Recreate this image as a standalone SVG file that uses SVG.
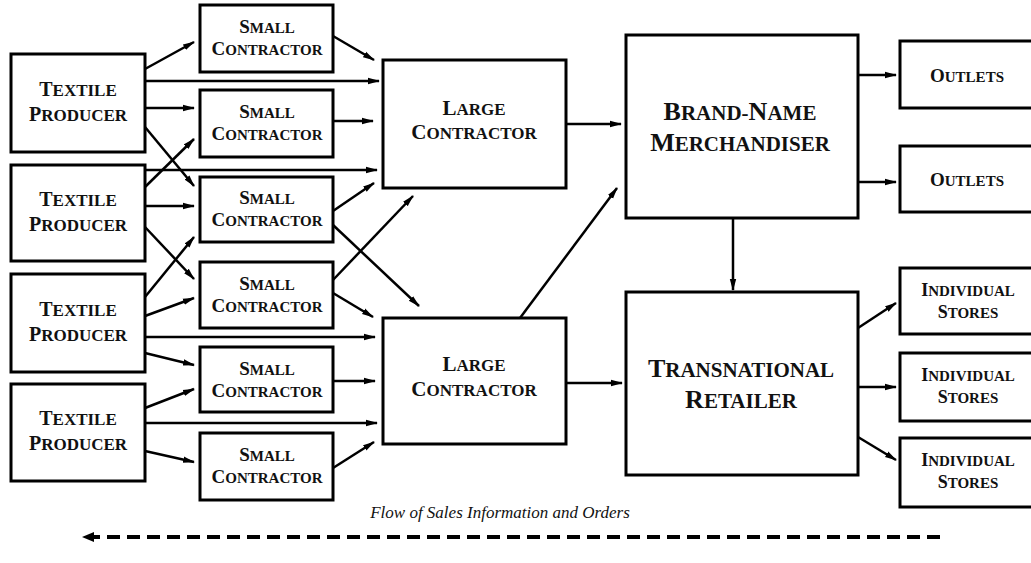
<svg xmlns="http://www.w3.org/2000/svg" width="1031" height="563" viewBox="0 0 1031 563">
<defs>
<style>
.box{fill:#fff;stroke:#000;stroke-width:3}
.lbl{font-family:'Liberation Serif','DejaVu Serif',serif;font-weight:bold;text-anchor:middle;fill:#111}
.c{fill:none;stroke:#000;stroke-width:2.5}
.cap{font-family:'Liberation Serif','DejaVu Serif',serif;font-style:italic;font-size:17px;text-anchor:middle;fill:#111}
</style>
<marker id="ah" viewBox="0 0 12 8" refX="11" refY="4" markerWidth="12" markerHeight="8" markerUnits="userSpaceOnUse" orient="auto">
<path d="M0,0.8 L12,4 L0,7.2 z" fill="#000"/>
</marker>
</defs>
<rect width="1031" height="563" fill="#fff"/>

<g id="connectors">
<g class="c" marker-end="url(#ah)">
<line x1="145" y1="69" x2="194" y2="42"/>
<line x1="145" y1="81" x2="379" y2="81"/>
<line x1="145" y1="108" x2="194" y2="108"/>
<line x1="145" y1="127" x2="194" y2="186"/>
<line x1="333" y1="36" x2="374" y2="60"/>
<line x1="333" y1="121" x2="373" y2="121"/>
<line x1="145" y1="170" x2="377" y2="170"/>
<line x1="145" y1="187" x2="194" y2="139"/>
<line x1="333" y1="211" x2="374" y2="183"/>
<line x1="145" y1="206" x2="194" y2="206"/>
<line x1="145" y1="227" x2="194" y2="279"/>
<line x1="145" y1="297" x2="194" y2="237"/>
<line x1="145" y1="316" x2="194" y2="298"/>
<line x1="145" y1="337" x2="375" y2="337"/>
<line x1="145" y1="353" x2="194" y2="365"/>
<line x1="333" y1="225" x2="419" y2="306"/>
<line x1="333" y1="280" x2="413" y2="196"/>
<line x1="333" y1="293" x2="373" y2="317"/>
<line x1="333" y1="381" x2="375" y2="381"/>
<line x1="145" y1="408" x2="194" y2="389"/>
<line x1="145" y1="423" x2="377" y2="423"/>
<line x1="145" y1="451" x2="194" y2="462"/>
<line x1="333" y1="468" x2="374" y2="442"/>
<line x1="566" y1="124" x2="621" y2="124"/>
<line x1="566" y1="383" x2="622" y2="383"/>
<line x1="520" y1="318" x2="617" y2="188"/>
<line x1="858" y1="75" x2="896" y2="75"/>
<line x1="858" y1="182" x2="896" y2="182"/>
<line x1="733" y1="218" x2="733" y2="290"/>
<line x1="858" y1="328" x2="896" y2="303"/>
<line x1="858" y1="387" x2="896" y2="387"/>
<line x1="858" y1="437" x2="896" y2="460"/>
</g>
<line x1="940" y1="537" x2="92" y2="537" stroke="#000" stroke-width="4" stroke-dasharray="13,7"/>
<path d="M82,537 L94,532 L94,542 z" fill="#000"/>
</g>

<g id="tp1"><rect class="box" x="11" y="54" width="134" height="98"/><text class="lbl" x="78" y="96"><tspan font-size="20">T</tspan><tspan font-size="17">EXTILE</tspan></text><text class="lbl" x="78" y="121"><tspan font-size="20">P</tspan><tspan font-size="17">RODUCER</tspan></text></g>
<g id="tp2"><rect class="box" x="11" y="165" width="134" height="96"/><text class="lbl" x="78" y="206"><tspan font-size="20">T</tspan><tspan font-size="17">EXTILE</tspan></text><text class="lbl" x="78" y="231"><tspan font-size="20">P</tspan><tspan font-size="17">RODUCER</tspan></text></g>
<g id="tp3"><rect class="box" x="11" y="274" width="134" height="98"/><text class="lbl" x="78" y="316"><tspan font-size="20">T</tspan><tspan font-size="17">EXTILE</tspan></text><text class="lbl" x="78" y="341"><tspan font-size="20">P</tspan><tspan font-size="17">RODUCER</tspan></text></g>
<g id="tp4"><rect class="box" x="11" y="384" width="134" height="97"/><text class="lbl" x="78" y="425"><tspan font-size="20">T</tspan><tspan font-size="17">EXTILE</tspan></text><text class="lbl" x="78" y="450"><tspan font-size="20">P</tspan><tspan font-size="17">RODUCER</tspan></text></g>

<g id="sc1"><rect class="box" x="200" y="5" width="133" height="67"/><text class="lbl" x="267" y="33"><tspan font-size="19">S</tspan><tspan font-size="15">MALL</tspan></text><text class="lbl" x="267" y="55"><tspan font-size="19">C</tspan><tspan font-size="15">ONTRACTOR</tspan></text></g>
<g id="sc2"><rect class="box" x="200" y="90" width="133" height="67"/><text class="lbl" x="267" y="118"><tspan font-size="19">S</tspan><tspan font-size="15">MALL</tspan></text><text class="lbl" x="267" y="140"><tspan font-size="19">C</tspan><tspan font-size="15">ONTRACTOR</tspan></text></g>
<g id="sc3"><rect class="box" x="200" y="177" width="133" height="65"/><text class="lbl" x="267" y="204"><tspan font-size="19">S</tspan><tspan font-size="15">MALL</tspan></text><text class="lbl" x="267" y="226"><tspan font-size="19">C</tspan><tspan font-size="15">ONTRACTOR</tspan></text></g>
<g id="sc4"><rect class="box" x="200" y="262" width="133" height="66"/><text class="lbl" x="267" y="290"><tspan font-size="19">S</tspan><tspan font-size="15">MALL</tspan></text><text class="lbl" x="267" y="312"><tspan font-size="19">C</tspan><tspan font-size="15">ONTRACTOR</tspan></text></g>
<g id="sc5"><rect class="box" x="200" y="347" width="133" height="65"/><text class="lbl" x="267" y="375"><tspan font-size="19">S</tspan><tspan font-size="15">MALL</tspan></text><text class="lbl" x="267" y="397"><tspan font-size="19">C</tspan><tspan font-size="15">ONTRACTOR</tspan></text></g>
<g id="sc6"><rect class="box" x="200" y="433" width="133" height="67"/><text class="lbl" x="267" y="461"><tspan font-size="19">S</tspan><tspan font-size="15">MALL</tspan></text><text class="lbl" x="267" y="483"><tspan font-size="19">C</tspan><tspan font-size="15">ONTRACTOR</tspan></text></g>

<g id="lc1"><rect class="box" x="383" y="60" width="183" height="128"/><text class="lbl" x="474" y="115"><tspan font-size="21">L</tspan><tspan font-size="17">ARGE</tspan></text><text class="lbl" x="474" y="139"><tspan font-size="21">C</tspan><tspan font-size="17">ONTRACTOR</tspan></text></g>
<g id="lc2"><rect class="box" x="383" y="318" width="183" height="126"/><text class="lbl" x="474" y="371"><tspan font-size="21">L</tspan><tspan font-size="17">ARGE</tspan></text><text class="lbl" x="474" y="396"><tspan font-size="21">C</tspan><tspan font-size="17">ONTRACTOR</tspan></text></g>

<g id="bnm"><rect class="box" x="626" y="35" width="232" height="183"/><text class="lbl" x="740" y="120"><tspan font-size="26">B</tspan><tspan font-size="21">RAND-</tspan><tspan font-size="26">N</tspan><tspan font-size="21">AME</tspan></text><text class="lbl" x="740" y="151"><tspan font-size="26">M</tspan><tspan font-size="21">ERCHANDISER</tspan></text></g>
<g id="tr"><rect class="box" x="626" y="292" width="232" height="183"/><text class="lbl" x="741" y="377"><tspan font-size="26">T</tspan><tspan font-size="21">RANSNATIONAL</tspan></text><text class="lbl" x="741" y="408"><tspan font-size="26">R</tspan><tspan font-size="21">ETAILER</tspan></text></g>

<g id="out1"><rect class="box" x="900" y="41" width="134" height="67"/><text class="lbl" x="967" y="82"><tspan font-size="19">O</tspan><tspan font-size="15">UTLETS</tspan></text></g>
<g id="out2"><rect class="box" x="900" y="146" width="134" height="66"/><text class="lbl" x="967" y="186"><tspan font-size="19">O</tspan><tspan font-size="15">UTLETS</tspan></text></g>

<g id="is1"><rect class="box" x="900" y="268" width="134" height="66"/><text class="lbl" x="968" y="296"><tspan font-size="18">I</tspan><tspan font-size="15">NDIVIDUAL</tspan></text><text class="lbl" x="968" y="318"><tspan font-size="18">S</tspan><tspan font-size="15">TORES</tspan></text></g>
<g id="is2"><rect class="box" x="900" y="353" width="134" height="68"/><text class="lbl" x="968" y="381"><tspan font-size="18">I</tspan><tspan font-size="15">NDIVIDUAL</tspan></text><text class="lbl" x="968" y="403"><tspan font-size="18">S</tspan><tspan font-size="15">TORES</tspan></text></g>
<g id="is3"><rect class="box" x="900" y="438" width="134" height="69"/><text class="lbl" x="968" y="466"><tspan font-size="18">I</tspan><tspan font-size="15">NDIVIDUAL</tspan></text><text class="lbl" x="968" y="488"><tspan font-size="18">S</tspan><tspan font-size="15">TORES</tspan></text></g>

<g id="caption"><text class="cap" x="500" y="518">Flow of Sales Information and Orders</text></g>
</svg>
